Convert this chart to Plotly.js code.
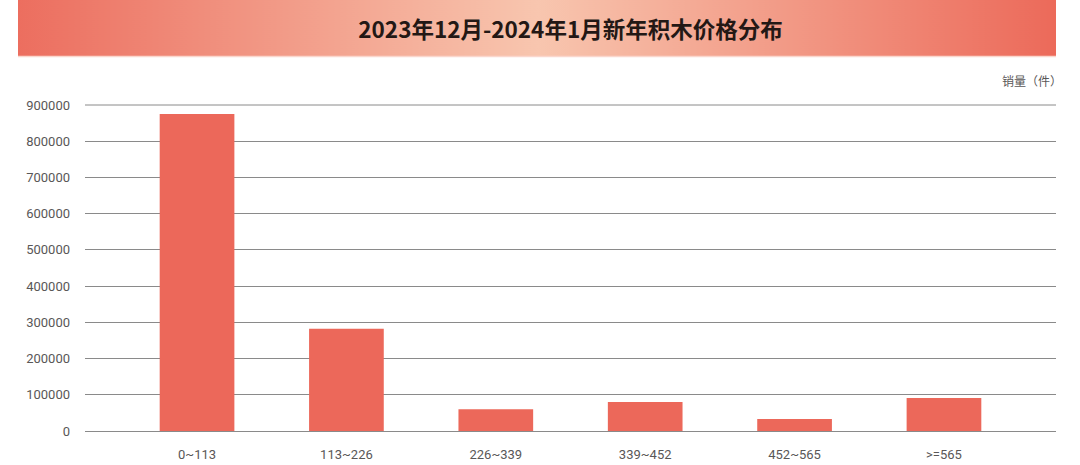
<!DOCTYPE html>
<html>
<head>
<meta charset="utf-8">
<script src="https://cdn.plot.ly/plotly-3.0.1.min.js"></script>
<style>
  html, body { margin: 0; padding: 0; background: #fff; }
  #graph { width: 1080px; height: 465px; }
</style>
</head>
<body>
<div id="graph"></div>
<script>
var priceBands = ['0~113', '113~226', '226~339', '339~452', '452~565', '>=565'];
var sales = [875000, 282000, 60000, 80000, 33000, 91000];
var yTicks = [0, 100000, 200000, 300000, 400000, 500000, 600000, 700000, 800000, 900000];

// banner gradient, painted on a canvas and used as a layout image
function bannerImage() {
    var c = document.createElement('canvas');
    c.width = 1040;
    c.height = 56;
    var ctx = c.getContext('2d');
    var g = ctx.createLinearGradient(0, 0, c.width, 0);
    g.addColorStop(0, 'rgb(236,110,95)');
    g.addColorStop(0.5, 'rgb(248,198,175)');
    g.addColorStop(1, 'rgb(236,106,90)');
    ctx.fillStyle = g;
    ctx.fillRect(0, 0, c.width, c.height);
    return c.toDataURL('image/png');
}

var barTrace = {
    x: priceBands,
    y: sales,
    type: 'bar',
    width: 0.5,
    marker: { color: 'rgb(236,104,90)' },
    hoverinfo: 'x+y'
};

var layout = {
    width: 1080,
    height: 465,
    margin: { l: 85, r: 24, t: 105, b: 34 },
    paper_bgcolor: '#ffffff',
    plot_bgcolor: '#ffffff',
    showlegend: false,
    font: { family: 'Roboto, "Noto Sans CJK SC", sans-serif', color: '#595757' },
    title: {
        text: '<b>2023年12月-2024年1月新年积木价格分布</b>',
        font: { family: '"Noto Sans CJK SC", sans-serif', size: 22.5, color: '#231815' },
        x: 0.5, xref: 'paper', xanchor: 'center',
        y: 1 - 30 / 465, yref: 'container', yanchor: 'middle'
    },
    xaxis: {
        type: 'category',
        range: [-0.75, 5.75],
        showgrid: false,
        showline: false,
        zeroline: false,
        ticks: '',
        ticklabelstandoff: 14,
        tickfont: { size: 13, color: '#595757' }
    },
    yaxis: {
        range: [0, 900000],
        tickvals: yTicks,
        ticktext: yTicks.map(String),
        showgrid: true,
        gridcolor: '#8a8a8a',
        gridwidth: 1,
        zeroline: true,
        zerolinecolor: '#8a8a8a',
        zerolinewidth: 1,
        showline: false,
        ticks: '',
        ticklabelstandoff: 14,
        tickfont: { size: 13, color: '#595757' }
    },
    images: [{
        source: bannerImage(),
        xref: 'paper', yref: 'paper',
        x: -67 / 971, y: 1 + 105 / 326,
        sizex: 1038 / 971, sizey: 56 / 326,
        sizing: 'stretch',
        xanchor: 'left', yanchor: 'top',
        layer: 'below'
    }],
    shapes: [{
        type: 'line', xref: 'paper', yref: 'paper',
        x0: -67 / 971, x1: 1, y0: 1 + 48.5 / 326, y1: 1 + 48.5 / 326,
        line: { color: 'rgb(250,215,205)', width: 1.5 }
    }, {
        // top gridline at 900000 (plotly skips it at the range edge)
        type: 'line', xref: 'paper', yref: 'paper',
        x0: 0, x1: 1, y0: 1, y1: 1,
        line: { color: '#8a8a8a', width: 1 }
    }],
    annotations: [{
        text: '销量（件）',
        xref: 'paper', yref: 'paper',
        x: 1, y: 1 + 25 / 326,
        xshift: 8,
        xanchor: 'right', yanchor: 'middle',
        showarrow: false,
        font: { family: '"Noto Sans CJK SC", sans-serif', size: 12, color: '#595757' }
    }]
};

Plotly.newPlot('graph', [barTrace], layout, { displayModeBar: false, staticPlot: true });
</script>
</body>
</html>
